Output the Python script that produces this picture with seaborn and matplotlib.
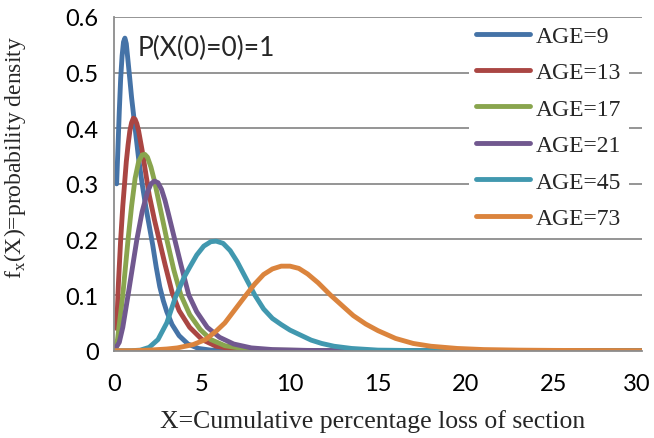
import matplotlib

matplotlib.use("Agg")
import matplotlib.pyplot as plt
import matplotlib.transforms as mtransforms
import pandas as pd
import seaborn as sns

# curves
x_age9 = [0.15, 0.22, 0.3, 0.38, 0.46, 0.54, 0.62, 0.7, 0.8, 0.9, 1.0, 1.2, 1.4, 1.6,
          1.8, 2.0, 2.2, 2.4, 2.6, 2.8, 3.0, 3.3, 3.7, 4.2, 4.8, 5.5, 7, 10, 20, 30]
y_age9 = [0.30, 0.36, 0.43, 0.49, 0.53, 0.555, 0.562, 0.552, 0.52, 0.488, 0.455, 0.40,
          0.345, 0.30, 0.26, 0.225, 0.19, 0.15, 0.115, 0.09, 0.07, 0.047, 0.027, 0.012,
          0.004, 0.001, 0, 0, 0, 0]

x_age13 = [0.15, 0.25, 0.38, 0.5, 0.6, 0.7, 0.8, 0.9, 1.0, 1.1, 1.2, 1.3, 1.4, 1.6, 1.8,
           2.0, 2.3, 2.6, 2.9, 3.3, 3.7, 4.3, 5.0, 5.8, 7.0, 8.5, 12, 30]
y_age13 = [0.04, 0.12, 0.20, 0.26, 0.30, 0.34, 0.37, 0.395, 0.41, 0.418, 0.416, 0.408,
           0.395, 0.36, 0.32, 0.28, 0.235, 0.195, 0.155, 0.105, 0.072, 0.042, 0.02, 0.008,
           0.002, 0.0005, 0, 0]

x_age17 = [0.05, 0.2, 0.35, 0.5, 0.65, 0.8, 1.0, 1.2, 1.4, 1.6, 1.75, 1.9, 2.1, 2.3, 2.5,
           2.7, 3.0, 3.4, 3.8, 4.3, 4.9, 5.5, 6.3, 7.5, 9, 12, 30]
y_age17 = [0.005, 0.02, 0.06, 0.10, 0.15, 0.20, 0.26, 0.31, 0.34, 0.352, 0.353, 0.348,
           0.33, 0.305, 0.275, 0.245, 0.20, 0.145, 0.10, 0.065, 0.038, 0.02, 0.009, 0.003,
           0.001, 0, 0]

x_age21 = [0.05, 0.3, 0.5, 0.8, 1.0, 1.3, 1.6, 1.9, 2.1, 2.3, 2.5, 2.7, 2.9, 3.1, 3.45,
           3.8, 4.25, 4.7, 5.3, 6.0, 6.8, 7.8, 9, 11, 14, 30]
y_age21 = [0.002, 0.015, 0.042, 0.10, 0.14, 0.20, 0.25, 0.285, 0.30, 0.305, 0.302, 0.29,
           0.27, 0.245, 0.20, 0.155, 0.10, 0.07, 0.042, 0.024, 0.012, 0.005, 0.002, 0.0005,
           0, 0]

x_age45 = [0, 1.0, 1.5, 2.0, 2.5, 3.0, 3.5, 4.0, 4.3, 4.7, 5.1, 5.5, 5.8, 6.2, 6.6, 7.0,
           7.5, 8.0, 8.5, 9.0, 9.5, 10.0, 10.6, 11.2, 11.8, 12.5, 13.5, 15, 17, 20, 30]
y_age45 = [0, 0, 0.001, 0.006, 0.02, 0.05, 0.097, 0.133, 0.15, 0.172, 0.188, 0.196, 0.197,
           0.193, 0.18, 0.16, 0.13, 0.10, 0.075, 0.058, 0.047, 0.037, 0.028, 0.019, 0.013,
           0.008, 0.004, 0.001, 0.0003, 0, 0]

x_age73 = [0, 1, 2, 3, 3.6, 4.5, 5.2, 5.8, 6.3, 6.9, 7.5, 8.0, 8.5, 9.0, 9.5, 10.0, 10.5,
           11.0, 11.6, 12.3, 13.0, 13.6, 14.3, 15.0, 16.0, 17.0, 18.0, 19.5, 21, 23, 25, 30]
y_age73 = [0, 0, 0.001, 0.003, 0.005, 0.011, 0.02, 0.035, 0.05, 0.075, 0.10, 0.12, 0.137,
           0.147, 0.152, 0.152, 0.148, 0.138, 0.122, 0.10, 0.08, 0.063, 0.048, 0.036, 0.022,
           0.013, 0.008, 0.004, 0.002, 0.001, 0.0005, 0]

ages = ["AGE=9", "AGE=13", "AGE=17", "AGE=21", "AGE=45", "AGE=73"]
colors = ["#4573A7", "#AA4643", "#89A54E", "#71588F", "#4198AF", "#DB843D"]

x_ticks = [0, 5, 10, 15, 20, 25, 30]
y_ticks = [0, 0.1, 0.2, 0.3, 0.4, 0.5, 0.6]
y_labels = ["0", "0.1", "0.2", "0.3", "0.4", "0.5", "0.6"]

series = [(x_age9, y_age9), (x_age13, y_age13), (x_age17, y_age17),
          (x_age21, y_age21), (x_age45, y_age45), (x_age73, y_age73)]
frames = []
for age, (xs, ys) in zip(ages, series):
    frames.append(pd.DataFrame({"x": xs, "y": ys, "age": age}))
df = pd.concat(frames, ignore_index=True)

sns.set_style("white")
plt.rcParams["font.family"] = ["Lato", "DejaVu Sans"]
serif = ["Liberation Serif", "DejaVu Serif"]
grey = "#8c8c8c"
lw = 3.5

fig = plt.figure(figsize=(6.54, 4.39), dpi=100)
ax = fig.add_axes([0.1743, 0.1989, 0.8074, 0.7601])

sns.lineplot(data=df, x="x", y="y", hue="age", hue_order=ages, palette=colors,
             estimator=None, sort=False, linewidth=lw, ax=ax, legend=True)
for line in ax.get_lines():
    line.set_solid_capstyle("round")
    line.set_solid_joinstyle("round")

ax.set_xlim(0, 30)
ax.set_ylim(0, 0.6)
ax.set_xticks(x_ticks)
ax.set_xticklabels([str(t) for t in x_ticks])
ax.set_yticks(y_ticks)
ax.set_yticklabels(y_labels)
ax.yaxis.grid(True, color=grey, linewidth=1.3)
ax.xaxis.grid(False)
ax.set_axisbelow(True)
for side in ["top", "right"]:
    ax.spines[side].set_visible(False)
for side in ["left", "bottom"]:
    ax.spines[side].set_color(grey)
    ax.spines[side].set_linewidth(1.3)
ax.tick_params(axis="both", which="major", direction="out", length=5, width=1.2,
               color=grey, labelsize=17, labelcolor="black", pad=6)
ax.tick_params(axis="x", pad=11)

# nudge the last x label so it stays inside the figure
last = ax.get_xticklabels()[-1]
last.set_transform(last.get_transform()
                   + mtransforms.ScaledTranslation(-4 / 72, 0, fig.dpi_scale_trans))

ax.set_xlabel("X=Cumulative percentage loss of section", fontsize=18.5, family=serif)
ax.set_ylabel(r"f$_\mathregular{x}$(X)=probability density", fontsize=17, family=serif)
ax.xaxis.set_label_coords(0.49, -0.175)
ax.yaxis.set_label_coords(-0.163, 0.583)

ax.text(1.36, 0.546, "P(X(0)=0)=1", fontsize=19, va="center", ha="left")

handles, labels = ax.get_legend_handles_labels()
leg = ax.legend(handles, labels, loc="upper left", bbox_to_anchor=(0.672, 0.996),
                prop={"family": serif, "size": 17}, frameon=True, fancybox=False,
                framealpha=1, facecolor="white", edgecolor="none",
                handlelength=2.3, handletextpad=0.25, labelspacing=0.63,
                borderpad=0.3, borderaxespad=0)
for line in leg.get_lines():
    line.set_linewidth(lw)
    line.set_solid_capstyle("round")

fig.savefig("out.png", dpi=100)
